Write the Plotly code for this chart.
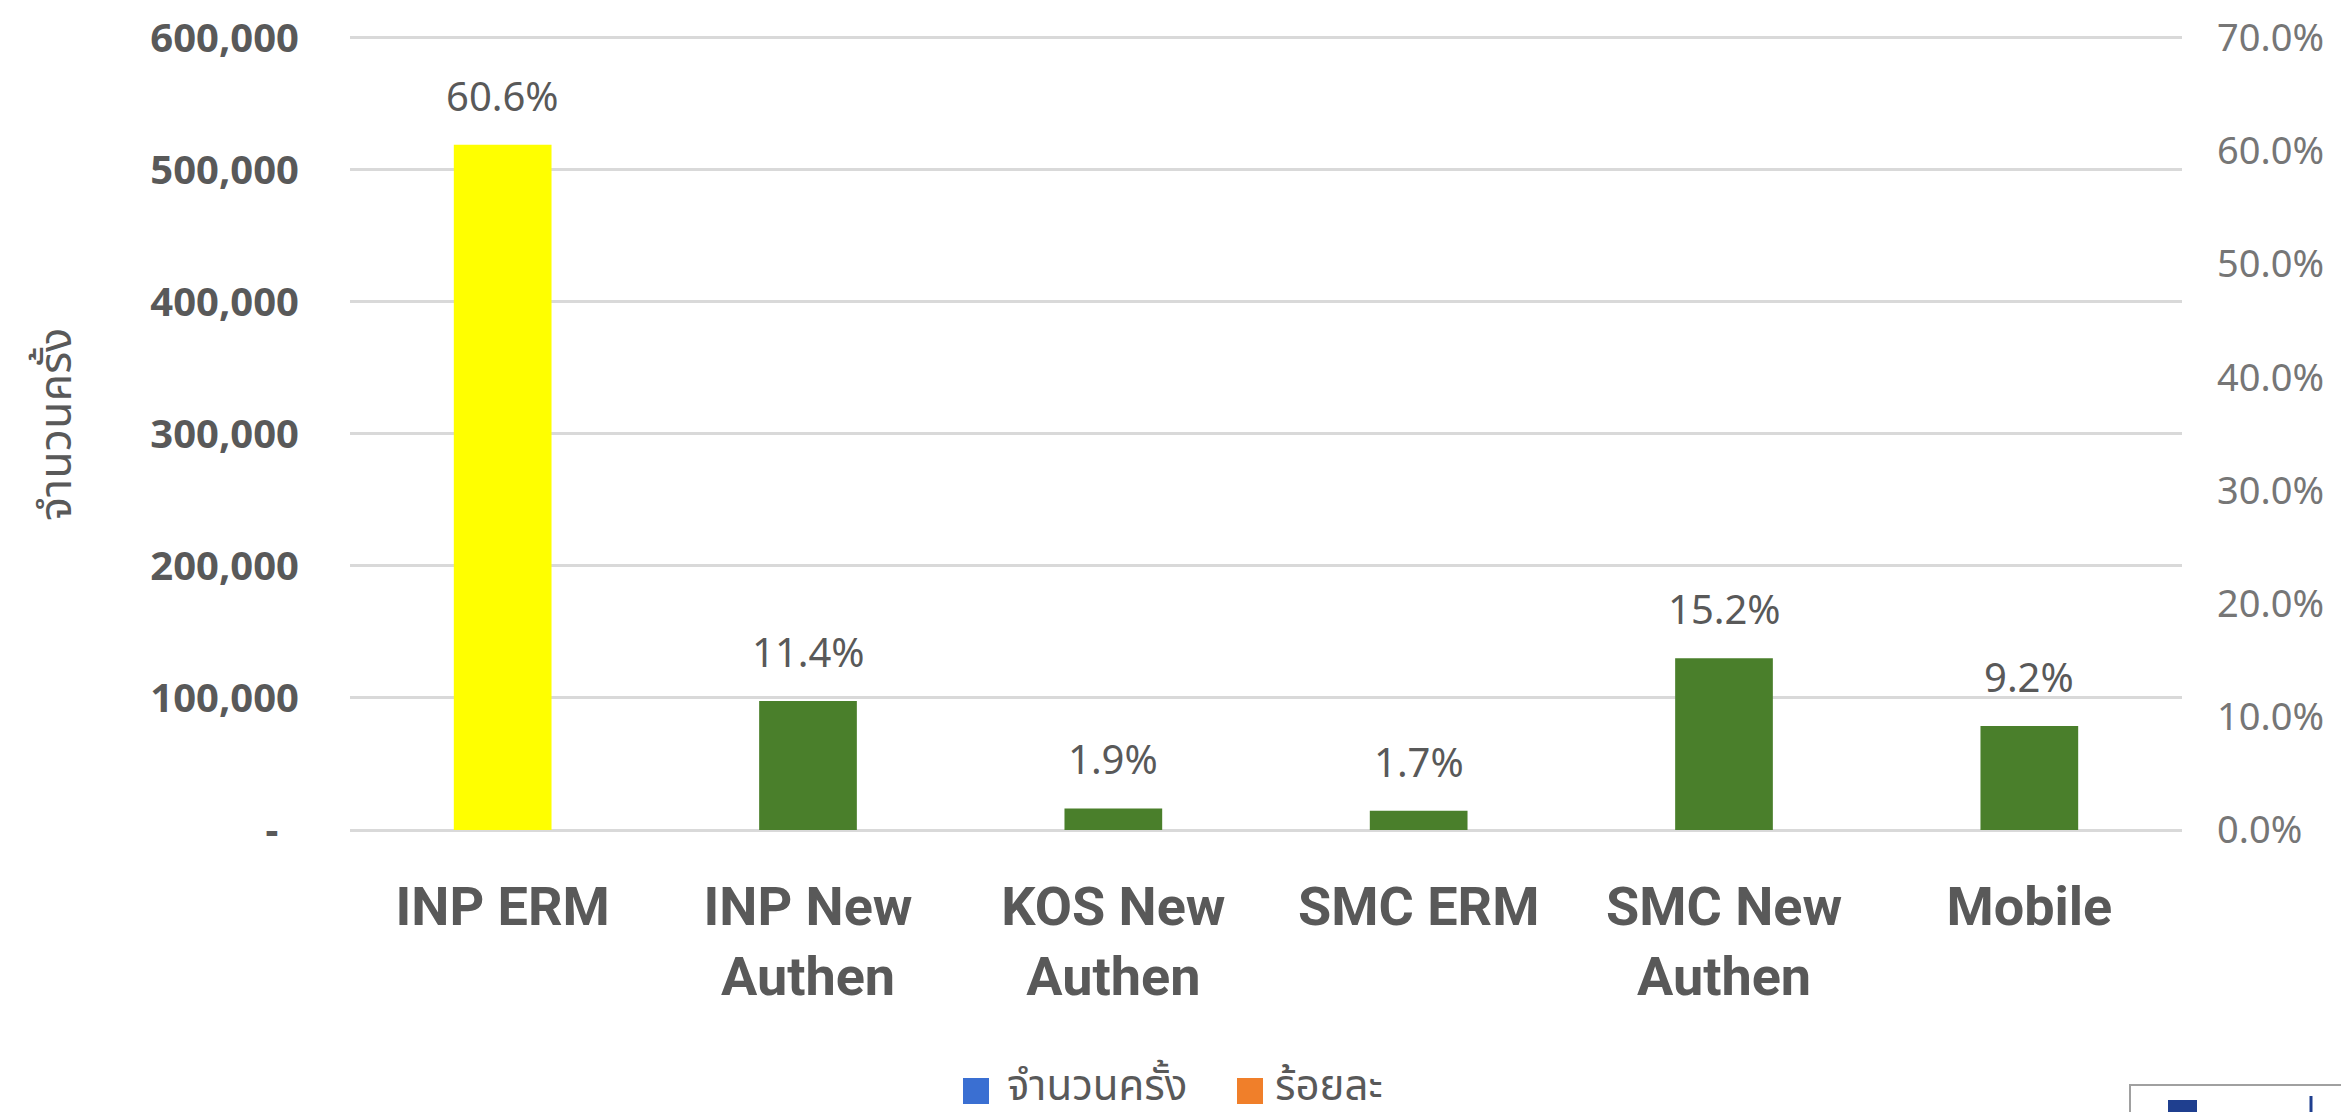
import plotly.graph_objects as go

categories = ["INP ERM", "INP New<br>Authen", "KOS New<br>Authen", "SMC ERM", "SMC New<br>Authen", "Mobile"]
counts = [518800, 97700, 16300, 14500, 130100, 78800]
percents = [60.6, 11.4, 1.9, 1.7, 15.2, 9.2]
bar_colors = ["#FFFF00", "#4A7F2B", "#4A7F2B", "#4A7F2B", "#4A7F2B", "#4A7F2B"]

left_tickvals = [0, 100000, 200000, 300000, 400000, 500000, 600000]
left_ticktext = ["-" + "\u00a0" * 2, "100,000", "200,000", "300,000", "400,000", "500,000", "600,000"]
right_tickvals = [0, 10, 20, 30, 40, 50, 60, 70]
right_ticktext = ["0.0%", "10.0%", "20.0%", "30.0%", "40.0%", "50.0%", "60.0%", "70.0%"]

series_names = ["จำนวนครั้ง", "ร้อยละ"]
series_colors = ["#3A6FD2", "#F07F2A"]
y_title = "จำนวนครั้ง"

W, H = 2341, 1112
L, R, T, B = 350, 159, 36, 282
PW, PH = W - L - R, H - T - B

def px_x(p):
    return (p - L) / PW

def px_y(p):
    return (H - B - p) / PH

THAI = "Noto Sans Thai, Tahoma, Loma, Garuda, Noto Sans, DejaVu Sans, sans-serif"
EPS = 1.002

fig = go.Figure()
fig.add_trace(go.Bar(
    x=categories, y=counts, name=series_names[0],
    marker=dict(color=bar_colors, line=dict(width=0)),
    showlegend=False, hoverinfo="x+y",
))
fig.add_trace(go.Scatter(
    x=categories, y=percents, name=series_names[1], yaxis="y2",
    mode="none", showlegend=False, hoverinfo="skip",
))

annotations = []
for c, v, p in zip(categories, counts, percents):
    annotations.append(dict(
        x=c, y=v, xref="x", yref="y", text=f"{p:.1f}%", showarrow=False,
        yanchor="bottom", yshift=20,
        font=dict(family="Noto Sans", size=40, color="#595959"),
    ))

annotations.append(dict(
    x=px_x(57), y=px_y(425), xref="paper", yref="paper", text=y_title,
    textangle=-90, showarrow=False, xanchor="center", yanchor="middle",
    font=dict(family=THAI, size=45, color="#595959"),
))

# manual legend
shapes = []
leg_items = [(963, 1005), (1237, 1273)]
for (sx, tx), nm, col in zip(leg_items, series_names, series_colors):
    shapes.append(dict(type="rect", xref="paper", yref="paper",
                       x0=px_x(sx), x1=px_x(sx + 26), y0=px_y(1104), y1=px_y(1078),
                       fillcolor=col, line=dict(width=0)))
    annotations.append(dict(x=px_x(tx), y=px_y(1087), xref="paper", yref="paper",
                            text=nm, showarrow=False, xanchor="left", yanchor="middle",
                            font=dict(family=THAI, size=42, color="#595959")))

# partial box at bottom right corner
shapes.append(dict(type="rect", xref="paper", yref="paper",
                   x0=px_x(2130), x1=px_x(2360), y0=px_y(1130), y1=px_y(1085),
                   fillcolor="white", line=dict(color="#A0A0A0", width=2)))
shapes.append(dict(type="rect", xref="paper", yref="paper",
                   x0=px_x(2168), x1=px_x(2197), y0=px_y(1120), y1=px_y(1100),
                   fillcolor="#1F3F8F", line=dict(width=0)))
shapes.append(dict(type="line", xref="paper", yref="paper",
                   x0=px_x(2311), x1=px_x(2311), y0=px_y(1112), y1=px_y(1096),
                   line=dict(color="#1F3F8F", width=3)))

fig.update_layout(
    width=W, height=H,
    margin=dict(l=L, r=R, t=T, b=B, pad=0),
    paper_bgcolor="white", plot_bgcolor="white",
    bargap=0.68,
    showlegend=False,
    xaxis=dict(
        tickfont=dict(family="Roboto", size=54, color="#595959", weight="bold"),
        showgrid=False, zeroline=False, showline=False, ticks="",
        ticklabelstandoff=40, automargin=False,
    ),
    yaxis=dict(
        range=[0, 600000 * EPS], tickvals=left_tickvals, ticktext=left_ticktext,
        tickfont=dict(family="Noto Sans", size=40, color="#595959", weight="bold"),
        showgrid=True, gridcolor="#D9D9D9", gridwidth=3,
        zeroline=True, zerolinecolor="#D9D9D9", zerolinewidth=3,
        showline=False, ticks="", ticklabelstandoff=50, automargin=False,
    ),
    yaxis2=dict(
        overlaying="y", side="right", range=[0, 70 * EPS],
        tickvals=right_tickvals, ticktext=right_ticktext,
        tickfont=dict(family="Noto Sans", size=38, color="#767676"),
        showgrid=False, zeroline=False, showline=False, ticks="",
        ticklabelstandoff=34, automargin=False,
    ),
    annotations=annotations,
    shapes=shapes,
)

fig.write_html(
    "out.html",
    config={"displayModeBar": False},
    post_script="document.body.style.margin='0';document.body.style.overflow='hidden';",
)
